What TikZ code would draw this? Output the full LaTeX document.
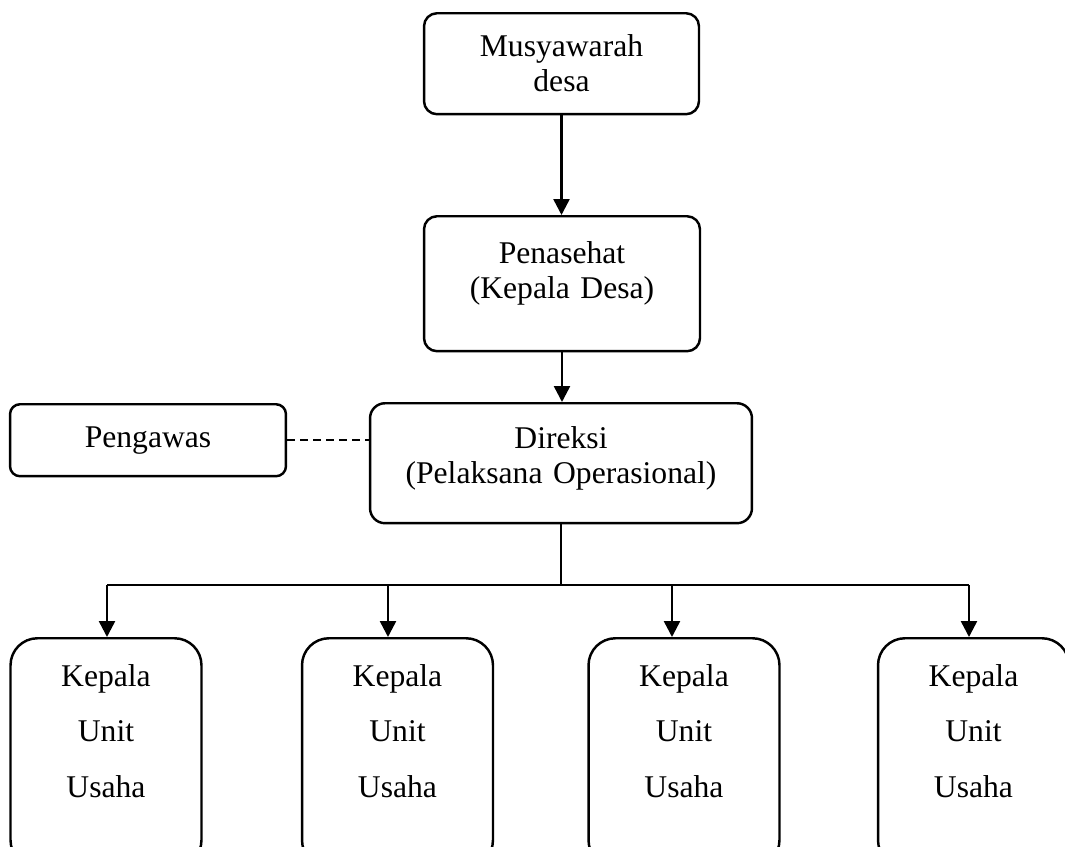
\documentclass[tikz,border=0pt]{standalone}
\usepackage{fontspec}
\setmainfont{Liberation Serif}
\usetikzlibrary{arrows.meta,positioning}

\begin{document}
\begin{tikzpicture}[x=0.02cm,y=-0.02cm,line width=1.4pt,
  >={Triangle[width=0.32cm,length=0.32cm]},
  box/.style={draw,rounded corners=0.26cm,inner sep=0pt,align=center,
    anchor=north,font=\fontsize{18}{20}\selectfont},
  unitbox/.style={box,rounded corners=0.54cm,text width=3.82cm,
    text height=0.96cm,text depth=3.62cm,
    font=\fontsize{18}{31.6}\selectfont}]
  \clip(0,0)rectangle(1065,846);
  \node[box,text width=5.5cm,text height=0.86cm,text depth=1.16cm]
  (Mus)at(561.5,12){Musyawarah\\desa};
  \node[box,text width=5.52cm,text height=0.94cm,text depth=1.76cm]
  (Pen)at(562,215){Penasehat\\(Kepala Desa)};
  \node[box,rounded corners=0.3cm,text width=7.64cm,text height=0.9cm,
    text depth=1.5cm](Dir)at(561,402){Direksi\\(Pelaksana Operasional)};
  \node[box,rounded corners=0.2cm,text width=5.52cm,text height=0.86cm,
    text depth=0.58cm](Pgw)at(148,403){Pengawas};
  \node[unitbox](K1)at(106,637){Kepala\\Unit\\Usaha};
  \node[unitbox](K2)at(397.5,637){Kepala\\Unit\\Usaha};
  \node[unitbox](K3)at(684,637){Kepala\\Unit\\Usaha};
  \node[unitbox](K4)at(973.5,637){Kepala\\Unit\\Usaha};
  \coordinate(T1)at(107,585);
  \coordinate(T2)at(388,585);
  \coordinate(T3)at(672,585);
  \coordinate(T4)at(969,585);
  \draw[->](Mus.south)--(Mus.south|-Pen.north);
  \draw[->](Pen.south)--(Pen.south|-Dir.north);
  \draw[dash pattern=on 0.16cm off 0.1cm](Pgw.east)--(Pgw.east-|Dir.west);
  \draw(Dir.south)--(Dir.south|-T1);
  \draw(T1)--(T4);
  \foreach \i in {1,...,4}
  \draw[->](T\i)--(T\i|-K\i.north);
\end{tikzpicture}
\end{document}
